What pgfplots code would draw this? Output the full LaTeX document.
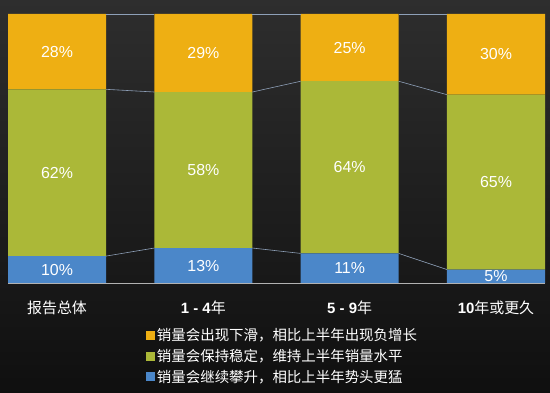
\documentclass[border=0pt]{standalone}
\usepackage{pgfplots}
\pgfplotsset{compat=1.18}
\usepackage{fontspec}
\setmainfont{Liberation Sans}
\newfontfamily\cjk{Noto Sans CJK SC}
\definecolor{orangeC}{HTML}{EEAF13}
\definecolor{greenC}{HTML}{ABB838}
\definecolor{blueC}{HTML}{4B87C9}
\definecolor{lineC}{HTML}{8EA0B8}
\begin{document}
\begin{tikzpicture}
\fill[top color=black!82, bottom color=black!94] (0,0) rectangle (550bp,393bp);
\useasboundingbox (0,0) rectangle (550bp,393bp);
\begin{axis}[
  at={(8bp,110bp)}, anchor=south west,
  scale only axis, width=537bp, height=269bp,
  ybar stacked, bar width=0.67,
  xmin=-0.335, xmax=3.335, ymin=0, ymax=100,
  axis y line=none, axis x line*=bottom,
  x axis line style={gray!60!white, -, line width=0.8pt},
  xtick={0,1,2,3},
  xticklabels={{\cjk 报告总体},{\bfseries 1 - 4}{\cjk 年},{\bfseries 5 - 9}{\cjk 年},{\bfseries 10}{\cjk 年或更久}},
  major tick length=0pt,
  xticklabel style={white, font=\fontsize{15}{17}\selectfont, anchor=base, yshift=-30bp},
  reverse legend,
  legend style={at={(0.251,-0.154)}, anchor=north west, draw=none, fill=none,
    text=white, font=\cjk\fontsize{14.5}{17}\selectfont, row sep=3bp,
    legend cell align=left},
]
\addplot[fill=blueC, draw=none, legend image code/.code={\fill[blueC] (0bp,-4.5bp) rectangle (9bp,4.5bp);}] coordinates {(0,10)(1,13)(2,11)(3,5)};
\addplot[fill=greenC, draw=none, legend image code/.code={\fill[greenC] (0bp,-4.5bp) rectangle (9bp,4.5bp);}] coordinates {(0,62)(1,58)(2,64)(3,65)};
\addplot[fill=orangeC, draw=none, legend image code/.code={\fill[orangeC] (0bp,-4.5bp) rectangle (9bp,4.5bp);}] coordinates {(0,28)(1,29)(2,25)(3,30)};
\legend{销量会继续攀升，相比上半年势头更猛,销量会保持稳定，维持上半年销量水平,销量会出现下滑，相比上半年出现负增长}
\end{axis}
\begin{axis}[
  at={(8bp,110bp)}, anchor=south west,
  scale only axis, width=537bp, height=269bp,
  xmin=-0.335, xmax=3.335, ymin=0, ymax=100,
  hide axis, clip=false, unbounded coords=jump,
]
\addplot[lineC, line width=0.6pt] coordinates {(0.335,10)(0.665,13)(1,nan)(1.335,13)(1.665,11)(2,nan)(2.335,11)(2.665,5)};
\addplot[lineC, line width=0.6pt] coordinates {(0.335,72)(0.665,71)(1,nan)(1.335,71)(1.665,75)(2,nan)(2.335,75)(2.665,70)};
\addplot[lineC, line width=0.6pt] coordinates {(0.335,100)(0.665,100)(1,nan)(1.335,100)(1.665,100)(2,nan)(2.335,100)(2.665,100)};
\addplot[only marks, mark=*, mark size=0pt, mark options={draw=none,fill=none},
  nodes near coords, point meta=explicit symbolic,
  nodes near coords style={white, anchor=center, font=\fontsize{16}{18}\selectfont}]
  coordinates {
  (0,5)[10\%] (0,41)[62\%] (0,86)[28\%]
  (1,6.5)[13\%] (1,42)[58\%] (1,85.5)[29\%]
  (2,5.5)[11\%] (2,43)[64\%] (2,87.5)[25\%]
  (3,2.5)[5\%] (3,37.5)[65\%] (3,85)[30\%]
  };
\end{axis}
\end{tikzpicture}
\end{document}
